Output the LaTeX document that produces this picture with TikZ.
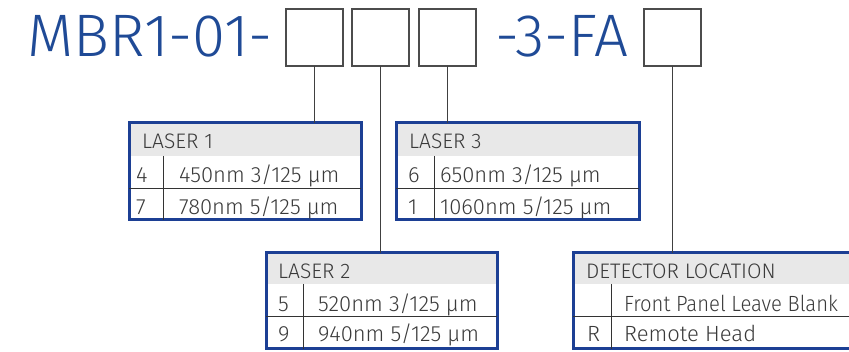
\documentclass[tikz,border=0pt]{standalone}
\usepackage{fontspec}
\setmainfont{Fira Sans}[UprightFont={* Light}]
\definecolor{tblue}{HTML}{1F4A96}
\definecolor{bblue}{HTML}{1C3F94}
\definecolor{hgray}{HTML}{E8E8E8}
\definecolor{tgray}{HTML}{3A3A3A}
\tikzset{
  codebox/.style={draw=black!70, line width=1.2pt, minimum width=57pt, minimum height=57pt, inner sep=0pt, outer sep=0pt, anchor=north west},
  title/.style={text=tblue, font=\fontsize{60}{60}\selectfont, inner sep=0pt, anchor=base west},
  lead/.style={draw=black!75, line width=1pt},
  frame/.style={draw=bblue, line width=3pt, inner sep=0pt, outer sep=0pt, anchor=north west},
  rule/.style={draw=black!80, line width=1pt},
  hdr/.style={text=tgray, font=\fontsize{21}{21}\selectfont, inner sep=0pt, anchor=base west},
  cell/.style={text=tgray, font=\fontsize{22}{22}\selectfont, inner sep=0pt, anchor=base west},
}
\begin{document}
\begin{tikzpicture}[x=1pt,y=-1pt]
\useasboundingbox (0,0) rectangle (849,352);
% title
\node[title] (t1) at (27,57) {MBR1-01-};
\node[title] (t2) at (495,57) {-3-FA};
\node[codebox] (b1) at (286,9) {};
\node[codebox] (b2) at (352,9) {};
\node[codebox] (b3) at (419,9) {};
\node[codebox] (b4) at (644,9) {};
% LASER 1
\fill[hgray] (129,123) rectangle (361,156);
\node[frame, minimum width=232pt, minimum height=97pt] (l1) at (129,123) {};
\draw[rule] (129,189) -- (361,189);
\draw[rule] (163,156) -- (163,220);
\node[hdr] (l1h) at (142,149) {LASER 1};
\node[cell] (l1a) at (136,183) {4};
\node[cell] (l1b) at (179,183) {450nm 3/125 µm};
\node[cell] (l1d) at (136,215) {7};
\node[cell] (l1e) at (179,215) {780nm 5/125 µm};
% LASER 3
\fill[hgray] (396,123) rectangle (639,156);
\node[frame, minimum width=243pt, minimum height=97pt] (l3) at (396,123) {};
\draw[rule] (396,189) -- (639,189);
\draw[rule] (434,156) -- (434,220);
\node[hdr] (l3h) at (409,149) {LASER 3};
\node[cell] (l3a) at (408,183) {6};
\node[cell] (l3b) at (440,183) {650nm 3/125 µm};
\node[cell] (l3d) at (408,215) {1};
\node[cell] (l3e) at (440,215) {1060nm 5/125 µm};
% LASER 2
\fill[hgray] (266,253) rectangle (497,284);
\node[frame, minimum width=231pt, minimum height=96pt] (l2) at (266,253) {};
\draw[rule] (266,317) -- (497,317);
\draw[rule] (303,284) -- (303,349);
\node[hdr] (l2h) at (278,279) {LASER 2};
\node[cell] (l2a) at (278,312) {5};
\node[cell] (l2b) at (318,312) {520nm 3/125 µm};
\node[cell] (l2d) at (278,342) {9};
\node[cell] (l2e) at (318,342) {940nm 5/125 µm};
% DETECTOR
\fill[hgray] (573,253) rectangle (860,284);
\node[frame, minimum width=287pt, minimum height=96pt] (dt) at (573,253) {};
\draw[rule] (573,317) -- (860,317);
\draw[rule] (611,284) -- (611,349);
\node[hdr] (dth) at (586,279) {DETECTOR LOCATION};
\node[cell] (dtb) at (624,312) {\scalebox{0.92}[1]{Front Panel Leave Blank}};
\node[cell] (dtd) at (587,342) {R};
\node[cell] (dte) at (624,342) {Remote Head};
% leaders
\draw[lead] (b1.south) -- (b1.south |- l1.north);
\draw[lead] (b2.south) -- (b2.south |- l2.north);
\draw[lead] (b3.south) -- (b3.south |- l3.north);
\draw[lead] (b4.south) -- (b4.south |- dt.north);
\end{tikzpicture}
\end{document}
